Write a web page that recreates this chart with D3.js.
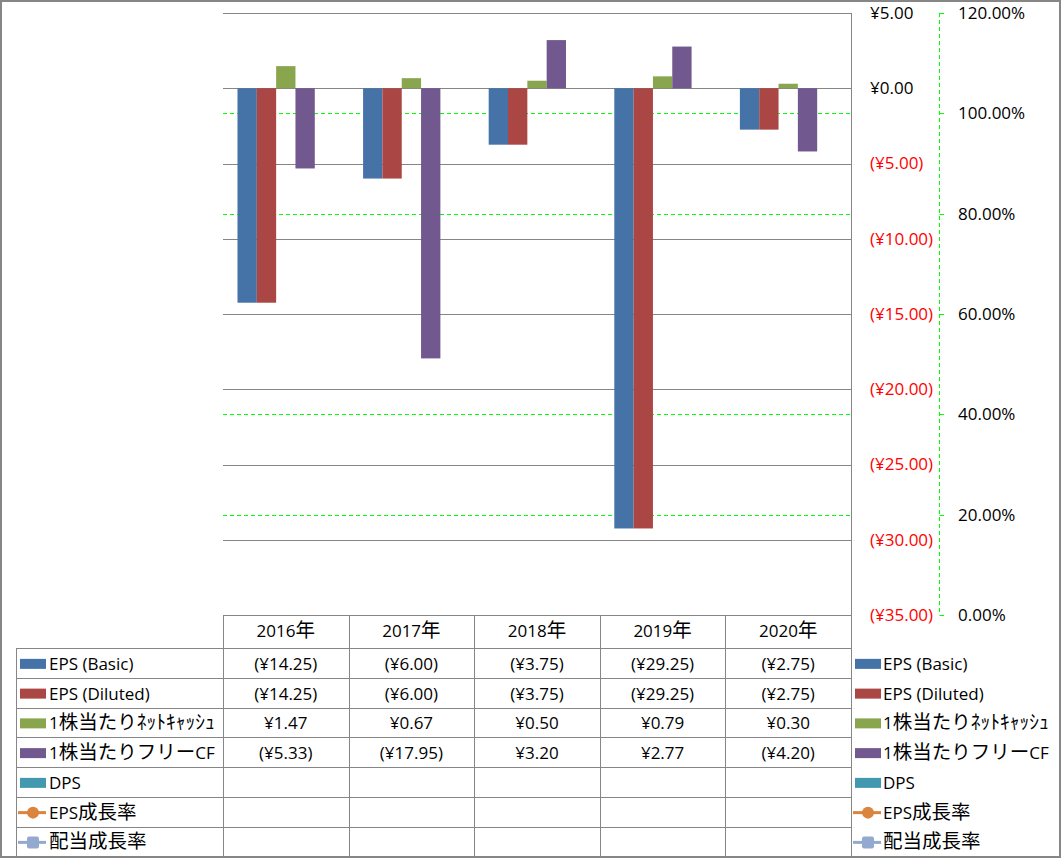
<!DOCTYPE html>
<html>
<head>
<meta charset="utf-8">
<script src="https://cdn.jsdelivr.net/npm/d3@7"></script>
<style>
  body { margin: 0; background: #fff; }
  svg { display: block; font-family: "Open Sans", "Noto Sans CJK JP", sans-serif; font-size: 17px; }
</style>
</head>
<body>
<svg id="chart" width="1061" height="858"></svg>
<script>
// data
const years = ['2016年', '2017年', '2018年', '2019年', '2020年']
const epsBasic = [-14.25, -6.00, -3.75, -29.25, -2.75]
const epsDiluted = [-14.25, -6.00, -3.75, -29.25, -2.75]
const netCashPerShare = [1.47, 0.67, 0.50, 0.79, 0.30]
const fcfPerShare = [-5.33, -17.95, 3.20, 2.77, -4.20]
const dps = [null, null, null, null, null]
const epsGrowth = [null, null, null, null, null]
const divGrowth = [null, null, null, null, null]
const yenTicks = [5, 0, -5, -10, -15, -20, -25, -30, -35]
const pctTicks = [0, 0.2, 0.4, 0.6, 0.8, 1.0, 1.2]

const series = [
  { name: 'EPS (Basic)', type: 'bar', color: '#4572A7', values: epsBasic },
  { name: 'EPS (Diluted)', type: 'bar', color: '#AA4643', values: epsDiluted },
  { name: '1株当たりﾈｯﾄｷｬｯｼｭ', type: 'bar', color: '#89A54E', values: netCashPerShare },
  { name: '1株当たりフリーCF', type: 'bar', color: '#71588F', values: fcfPerShare },
  { name: 'DPS', type: 'bar', color: '#4198AF', values: dps },
  { name: 'EPS成長率', type: 'line', marker: 'circle', color: '#DB843D', values: epsGrowth },
  { name: '配当成長率', type: 'line', marker: 'square', color: '#93A9CF', values: divGrowth }
]

const plotLeft = 223, plotRight = 851, plotTop = 13, plotBottom = 615
const gridColor = '#868686'
const svg = d3.select('#chart')

var x = d3.scaleBand().domain(years).range([plotLeft, plotRight])
var barSeries = series.filter(s => s.type === 'bar')
var xSub = d3.scaleBand()
  .domain(barSeries.map(s => s.name))
  .range([0, x.bandwidth()])
  .paddingInner(0)
  .paddingOuter(0.75)
var y = d3.scaleLinear().domain([-35, 5]).range([plotBottom, plotTop])
var y2 = d3.scaleLinear().domain([0, 1.2]).range([plotBottom, plotTop])

function yen(v) {
  return v < 0 ? '(¥' + Math.abs(v).toFixed(2) + ')' : '¥' + v.toFixed(2)
}

// text with CJK runs drawn a bit bigger, like the original font
function richText(sel, str) {
  var runs = str.match(/[\u0000-\u00ff]+|[^\u0000-\u00ff]+/g) || []
  runs.forEach(r => {
    sel.append('tspan')
      .style('font-size', /[^\u0000-\u00ff]/.test(r) ? '19.5px' : null)
      .text(r)
  })
}

// outer frame
svg.append('rect')
  .attr('x', 1).attr('y', 1).attr('width', 1059).attr('height', 856)
  .style('fill', 'none').style('stroke', gridColor).style('stroke-width', 2)

// secondary gridlines (green dashed)
svg.append('g').selectAll('line')
  .data(pctTicks.filter(t => t > 0 && t < 1.2))
  .enter().append('line')
  .attr('x1', plotLeft).attr('x2', plotRight)
  .attr('y1', d => Math.round(y2(d)) + 0.5).attr('y2', d => Math.round(y2(d)) + 0.5)
  .style('stroke', '#00FF00').style('stroke-dasharray', '4,3')

// primary gridlines
svg.append('g').selectAll('line')
  .data(yenTicks.filter(t => t > -35))
  .enter().append('line')
  .attr('x1', plotLeft).attr('x2', plotRight)
  .attr('y1', d => Math.round(y(d)) + 0.5).attr('y2', d => Math.round(y(d)) + 0.5)
  .style('stroke', gridColor)

// bars
barSeries.forEach(s => {
  svg.append('g').selectAll('rect')
    .data(s.values.map((v, i) => ({ v: v, year: years[i] })).filter(d => d.v != null))
    .enter().append('rect')
    .attr('x', d => x(d.year) + xSub(s.name))
    .attr('width', xSub.bandwidth())
    .attr('y', d => y(Math.max(0, d.v)))
    .attr('height', d => Math.abs(y(d.v) - y(0)))
    .style('fill', s.color)
})

// right border of plot / primary axis
svg.append('line')
  .attr('x1', plotRight + 0.5).attr('x2', plotRight + 0.5)
  .attr('y1', plotTop).attr('y2', 857)
  .style('stroke', gridColor)

// primary labels
svg.append('g').selectAll('text')
  .data(yenTicks)
  .enter().append('text')
  .attr('x', 870)
  .attr('y', d => y(d))
  .attr('dy', '0.35em')
  .style('fill', d => d < 0 ? '#FF0000' : '#000')
  .text(yen)

// secondary axis
var ax2 = svg.append('g')
ax2.append('line')
  .attr('x1', 939.5).attr('x2', 939.5)
  .attr('y1', plotTop).attr('y2', plotBottom)
  .style('stroke', '#00FF00').style('stroke-dasharray', '4,3')
ax2.selectAll('.tick2')
  .data(pctTicks)
  .enter().append('line')
  .attr('x1', 939.5).attr('x2', 944)
  .attr('y1', d => Math.round(y2(d)) + 0.5).attr('y2', d => Math.round(y2(d)) + 0.5)
  .style('stroke', '#00FF00')
ax2.selectAll('text')
  .data(pctTicks)
  .enter().append('text')
  .attr('x', 958)
  .attr('y', d => y2(d))
  .attr('dy', '0.35em')
  .text(d => (d * 100).toFixed(2) + '%')

// data table
var rowTop = 648, rowH = 29.75
var table = svg.append('g')
var rows = series.length
table.append('line')
  .attr('x1', plotLeft).attr('x2', plotRight).attr('y1', plotBottom + 0.5).attr('y2', plotBottom + 0.5)
  .style('stroke', gridColor)
d3.range(rows + 1).forEach(i => {
  var yy = Math.round(rowTop + i * rowH) + 0.5
  table.append('line')
    .attr('x1', 16.5).attr('x2', plotRight).attr('y1', yy).attr('y2', yy)
    .style('stroke', gridColor)
})
table.append('line')
  .attr('x1', 16.5).attr('x2', 16.5).attr('y1', rowTop).attr('y2', 857)
  .style('stroke', gridColor)
years.forEach(yr => {
  table.append('line')
    .attr('x1', Math.round(x(yr)) + 0.5).attr('x2', Math.round(x(yr)) + 0.5)
    .attr('y1', plotBottom).attr('y2', 857)
    .style('stroke', gridColor)
})

// header
table.selectAll('.hdr')
  .data(years)
  .enter().append('text')
  .attr('x', d => x(d) + x.bandwidth() / 2)
  .attr('y', (plotBottom + rowTop) / 2)
  .attr('dy', '0.35em')
  .style('text-anchor', 'middle')
  .each(function(d) { richText(d3.select(this), d) })

function legendKey(g, s, kx, cy) {
  if (s.type === 'bar') {
    g.append('rect')
      .attr('x', kx).attr('y', cy - 5).attr('width', 26).attr('height', 10)
      .style('fill', s.color)
  } else {
    g.append('line')
      .attr('x1', kx - 2).attr('x2', kx + 26).attr('y1', cy).attr('y2', cy)
      .style('stroke', s.color).style('stroke-width', 3)
    if (s.marker === 'circle') {
      g.append('circle').attr('cx', kx + 13).attr('cy', cy).attr('r', 6).style('fill', s.color)
    } else {
      g.append('rect').attr('x', kx + 7).attr('y', cy - 6).attr('width', 12).attr('height', 12)
        .attr('rx', 2).style('fill', s.color)
    }
  }
}

series.forEach((s, i) => {
  var cy = rowTop + i * rowH + rowH / 2 + 1
  // left legend inside table
  legendKey(table, s, 20, cy)
  table.append('text')
    .attr('x', 49).attr('y', cy).attr('dy', '0.35em')
    .each(function() { richText(d3.select(this), s.name) })
  // values
  s.values.forEach((v, j) => {
    if (v == null) return
    table.append('text')
      .attr('x', x(years[j]) + x.bandwidth() / 2)
      .attr('y', cy).attr('dy', '0.35em')
      .style('text-anchor', 'middle')
      .text(yen(v))
  })
  // right legend
  legendKey(svg, s, 855, cy)
  svg.append('text')
    .attr('x', 883).attr('y', cy).attr('dy', '0.35em')
    .each(function() { richText(d3.select(this), s.name) })
})
</script>
</body>
</html>
